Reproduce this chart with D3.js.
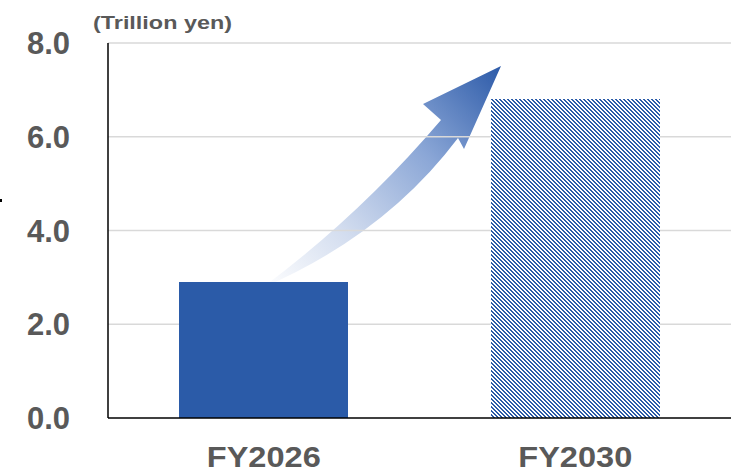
<!DOCTYPE html>
<html><head><meta charset="utf-8">
<script src="https://cdn.jsdelivr.net/npm/d3@7"></script>
<style>html,body{margin:0;padding:0;background:#fff;}svg{display:block;}</style>
</head><body>
<svg id="chart" width="731" height="472"></svg>
<script>
const categories = ["FY2026", "FY2030"];
const values = [2.9, 6.8];
const yTicks = [0, 2, 4, 6, 8];
const tickLabels = ["0.0", "2.0", "4.0", "6.0", "8.0"];
const unitLabel = "(Trillion yen)";

(function () {
const svg = d3.select("#chart");
const pLeft = 108, pRight = 731, pTop = 43, pBottom = 418;

const x = d3.scaleBand().domain(categories).range([pLeft, pRight]).paddingInner(0.457).paddingOuter(0.2285);
const y = d3.scaleLinear().domain([0, 8]).range([pBottom, pTop]);

const defs = svg.append("defs");
const pat = defs.append("pattern").attr("id", "hatch").attr("patternUnits", "userSpaceOnUse")
  .attr("width", 4).attr("height", 4);
pat.append("rect").attr("width", 4).attr("height", 4).attr("fill", "#fff");
const px = [];
for (let i = 0; i < 4; i++) for (let j = 0; j < 4; j++) {
  const k = ((i - j) % 4 + 4) % 4;
  if (k === 0 || k === 1) px.push([i, j]);
}
pat.selectAll("rect.p").data(px).join("rect").attr("class", "p")
  .attr("x", d => d[0]).attr("y", d => d[1]).attr("width", 1).attr("height", 1)
  .attr("fill", "#2B5BA8").attr("shape-rendering", "crispEdges");

const grad = defs.append("linearGradient").attr("id", "arrowGrad")
  .attr("gradientUnits", "userSpaceOnUse")
  .attr("x1", 262).attr("y1", 288).attr("x2", 501).attr("y2", 66);
[[0, "#ffffff"], [0.3, "#d3ddef"], [0.65, "#8aa6d6"], [1, "#2C5AA8"]].forEach(([o, c]) =>
  grad.append("stop").attr("offset", o).attr("stop-color", c));

// curved arrow (decorative)
svg.append("path")
  .attr("d", "M262,288 Q360,215 441,120 L423,104 L501,66 L464,149 L458,138 Q385,235 262,288 Z")
  .attr("fill", "url(#arrowGrad)");

// gridlines
svg.append("g").selectAll("line").data(yTicks.filter(d => d > 0)).join("line")
  .attr("x1", pLeft).attr("x2", pRight).attr("y1", d => y(d)).attr("y2", d => y(d))
  .attr("stroke", "#d9d9d9").attr("stroke-width", 1.5);

// bars
svg.append("g").selectAll("rect").data(categories).join("rect")
  .attr("x", d => Math.round(x(d))).attr("width", Math.round(x.bandwidth()))
  .attr("y", (d, i) => Math.round(y(values[i]))).attr("height", (d, i) => Math.round(y(0) - y(values[i])))
  .attr("fill", (d, i) => i === 0 ? "#2B5BA8" : "url(#hatch)")
  .attr("shape-rendering", "crispEdges");

// axes lines
svg.append("line").attr("x1", pLeft).attr("x2", pLeft).attr("y1", pTop).attr("y2", pBottom)
  .attr("stroke", "#000").attr("stroke-width", 1.5);
svg.append("line").attr("x1", pLeft).attr("x2", pRight).attr("y1", pBottom).attr("y2", pBottom)
  .attr("stroke", "#000").attr("stroke-width", 1.5);

// y tick labels
svg.append("g").selectAll("text").data(yTicks).join("text")
  .attr("x", 70).attr("y", d => y(d)).attr("dy", "0.36em")
  .attr("text-anchor", "end")
  .attr("font-family", "Liberation Sans, Arial, sans-serif").attr("font-weight", "bold")
  .attr("font-size", 31).attr("fill", "#595959")
  .text((d, i) => tickLabels[i]);

// category labels
svg.append("g").selectAll("text").data(categories).join("text")
  .attr("x", d => x(d) + x.bandwidth() / 2).attr("y", 467)
  .attr("text-anchor", "middle")
  .attr("font-family", "Liberation Sans, Arial, sans-serif").attr("font-weight", "bold")
  .attr("font-size", 29).attr("fill", "#595959")
  .attr("textLength", 114).attr("lengthAdjust", "spacingAndGlyphs")
  .text(d => d);

// unit label
svg.append("text").attr("x", 93).attr("y", 29)
  .attr("font-family", "Liberation Sans, Arial, sans-serif").attr("font-weight", "bold")
  .attr("font-size", 19).attr("fill", "#595959")
  .attr("textLength", 139).attr("lengthAdjust", "spacingAndGlyphs")
  .text(unitLabel);

// small stray mark at left edge
svg.append("rect").attr("x", 0).attr("y", 199).attr("width", 2).attr("height", 3).attr("fill", "#000");
})();
</script>
</body></html>
